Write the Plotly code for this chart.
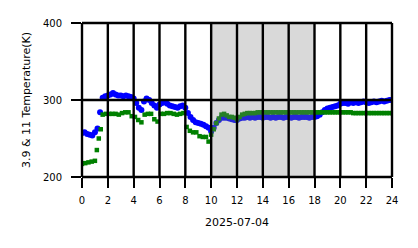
import numpy as np
import plotly.graph_objects as go

# ---- data ----
blue_hours = [round(0.2 * i, 1) for i in range(121)]
blue_temp = [
    257, 258, 256, 255, 254, 258, 263, 284, 303, 305,   # 0.0-1.8
    306, 307, 309, 307, 306, 306, 305, 306, 305, 304,   # 2.0-3.8
    302, 296, 290, 287, 298, 302, 300, 296, 293, 290,   # 4.0-5.8
    294, 296, 297, 295, 293, 292, 291, 290, 292, 293,   # 6.0-7.8
    290, 283, 278, 274, 271, 270, 269, 268, 266, 264,   # 8.0-9.8
    259, 264, 270, 274, 277, 277, 277, 276, 275, 274,   # 10.0-11.8
    274, 276, 277, 277, 278, 277, 278, 277, 278, 278,   # 12.0-13.8
    277, 278, 278, 277, 278, 277, 278, 278, 277, 278,   # 14.0-15.8
    278, 277, 278, 278, 277, 278, 278, 278, 277, 278,   # 16.0-17.8
    278, 279, 281, 284, 287, 289, 290, 291, 292, 293,   # 18.0-19.8
    295, 296, 296, 295, 297, 296, 297, 296, 297, 298,   # 20.0-21.8
    297, 296, 297, 298, 297, 298, 299, 298, 299, 300,   # 22.0-23.8
    300,                                                # 24.0
]

green_hours = [
    0.0, 0.25, 0.5, 0.75, 1.0, 1.15, 1.3, 1.45, 1.6, 1.85,
    2.1, 2.35, 2.6, 2.85, 3.1, 3.35, 3.6, 3.85, 4.1, 4.35,
    4.6, 4.85, 5.1, 5.35, 5.6, 5.85, 6.1, 6.35, 6.6, 6.85,
    7.1, 7.35, 7.6, 7.85, 8.1, 8.35, 8.6, 8.85, 9.1, 9.35,
    9.6, 9.8,
] + [round(10 + 0.2 * i, 1) for i in range(71)]
green_temp = [
    217, 218, 219, 220, 221, 235, 250, 262, 281, 282,
    282, 282, 282, 281, 283, 284, 284, 279, 278, 274,
    271, 281, 282, 282, 275, 272, 282, 282, 283, 283,
    282, 281, 282, 283, 265, 260, 258, 258, 253, 252,
    252, 246,
    255, 262, 270, 276, 281, 282, 280, 278, 278, 277,   # 10.0-11.8
    275, 278, 281, 282, 283, 283, 283, 283, 284, 284,   # 12.0-13.8
    284, 284, 284, 284, 284, 284, 284, 284, 284, 284,   # 14.0-15.8
    284, 284, 284, 284, 284, 284, 284, 284, 284, 284,   # 16.0-17.8
    284, 284, 284, 284, 284, 284, 284, 284, 284, 284,   # 18.0-19.8
    284, 284, 284, 284, 284, 283, 283, 283, 283, 283,   # 20.0-21.8
    283, 283, 283, 283, 283, 283, 283, 283, 283, 283,   # 22.0-23.8
    283,                                                # 24.0
]

x_ticks = [0, 2, 4, 6, 8, 10, 12, 14, 16, 18, 20, 22, 24]
y_ticks = [200, 300, 400]
x_range = [0, 24]
y_range = [200, 400]
shade_start, shade_end = 10, 18
x_title = "2025-07-04"
y_title = "3.9 & 11 Temperature(K)"

fig = go.Figure()
fig.add_trace(go.Scatter(x=blue_hours, y=blue_temp, mode="markers",
                         marker=dict(color="#0000ff", size=6, symbol="circle", line=dict(width=0)),
                         showlegend=False))
fig.add_trace(go.Scatter(x=green_hours, y=green_temp, mode="markers",
                         marker=dict(color="#008000", size=4.5, symbol="square", line=dict(width=0)),
                         showlegend=False))

def xp(v):
    return (v - x_range[0]) / (x_range[1] - x_range[0])

def yp(v):
    return (v - y_range[0]) / (y_range[1] - y_range[0])

LW = 2.4
shapes = [dict(type="rect", xref="paper", yref="paper", x0=xp(shade_start), x1=xp(shade_end), y0=0, y1=1,
               fillcolor="rgba(128,128,128,0.3)", line=dict(width=0), layer="above")]
for xv in x_ticks:
    shapes.append(dict(type="line", xref="paper", yref="paper", x0=xp(xv), x1=xp(xv), y0=0, y1=1,
                       line=dict(color="black", width=LW), layer="above"))
for yv in y_ticks:
    shapes.append(dict(type="line", xref="paper", yref="paper", x0=0, x1=1, y0=yp(yv), y1=yp(yv),
                       line=dict(color="black", width=LW), layer="above"))

tick_font = dict(family="DejaVu Sans", size=10, color="black")
title_font = dict(family="DejaVu Sans", size=11, color="black")
fig.update_layout(
    width=418, height=248,
    margin=dict(l=82, r=26, t=23, b=71),
    paper_bgcolor="white", plot_bgcolor="white",
    shapes=shapes,
    xaxis=dict(range=x_range, tickvals=x_ticks, ticktext=[str(v) for v in x_ticks],
               showgrid=False, zeroline=False, showline=False,
               ticks="outside", ticklen=10, tickwidth=LW, tickcolor="black",
               ticklabelstandoff=4, tickfont=tick_font,
               title=dict(text=x_title, standoff=13, font=title_font)),
    yaxis=dict(range=y_range, tickvals=y_ticks, showgrid=False, zeroline=False, showline=False,
               ticks="outside", ticklen=10, tickwidth=LW, tickcolor="black",
               ticklabelstandoff=7, tickfont=tick_font,
               title=dict(text=y_title, standoff=10, font=title_font)),
)
fig.write_html("out.html")
